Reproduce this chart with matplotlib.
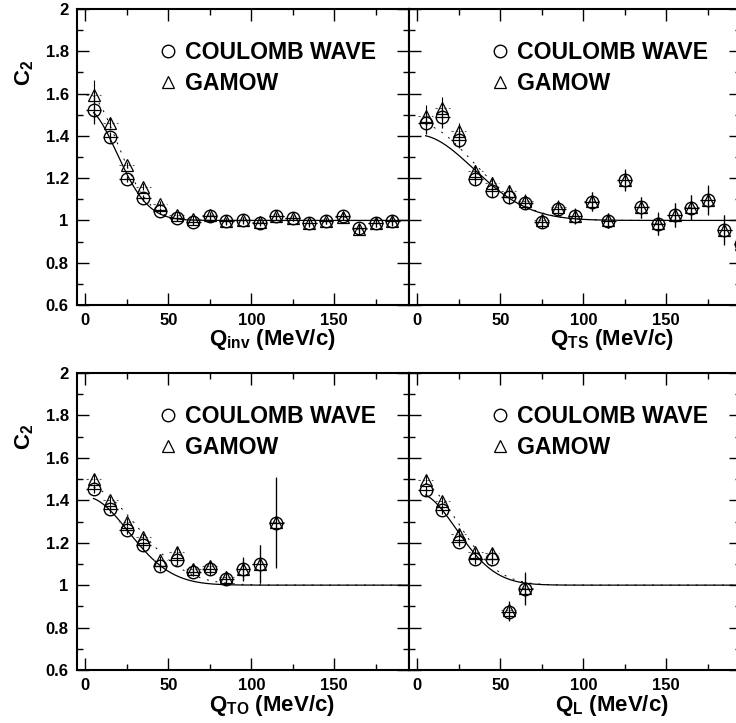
import matplotlib
matplotlib.use("Agg")
import matplotlib.pyplot as plt
from matplotlib.ticker import MultipleLocator, FormatStrFormatter
import numpy as np

plt.rcParams['font.family'] = ['Liberation Sans', 'DejaVu Sans']
plt.rcParams['font.weight'] = 'bold'
plt.rcParams['mathtext.fontset'] = 'custom'
plt.rcParams['mathtext.rm'] = 'Liberation Sans:bold'
plt.rcParams['mathtext.bf'] = 'Liberation Sans:bold'
plt.rcParams['mathtext.it'] = 'Liberation Sans:bold'
plt.rcParams['mathtext.default'] = 'bf'

HBARC = 197.327  # MeV fm

# Q_inv panel
q_inv = [5, 15, 25, 35, 45, 55, 65, 75, 85, 95, 105, 115, 125, 135, 145, 155, 165, 175, 185]
cw_inv = [1.524, 1.394, 1.197, 1.106, 1.044, 1.010, 0.992, 1.019, 0.995, 1.000,
          0.990, 1.019, 1.011, 0.988, 0.996, 1.023, 0.962, 0.988, 0.995]
gm_inv = [1.594, 1.463, 1.263, 1.160, 1.079, 1.027, 1.008, 1.024, 0.997, 1.003,
          0.992, 1.020, 1.012, 0.986, 0.997, 1.017, 0.958, 0.990, 0.997]
err_inv = [0.07, 0.025, 0.015, 0.015, 0.015, 0.015, 0.015, 0.015, 0.015, 0.015,
           0.015, 0.015, 0.015, 0.015, 0.015, 0.015, 0.02, 0.02, 0.02]

# Q_TS panel
q_ts = [5, 15, 25, 35, 45, 55, 65, 75, 85, 95, 105, 115, 125, 135, 145, 155, 165, 175, 185, 195]
cw_ts = [1.460, 1.488, 1.381, 1.197, 1.139, 1.110, 1.082, 0.992, 1.055, 1.019,
         1.089, 0.998, 1.190, 1.062, 0.984, 1.026, 1.060, 1.096, 0.955, 0.89]
gm_ts = [1.496, 1.532, 1.422, 1.233, 1.176, 1.139, 1.094, 1.000, 1.063, 1.023,
         1.091, 1.000, 1.192, 1.063, 0.986, 1.027, 1.062, 1.098, 0.957, 0.89]
err_ts = [0.05, 0.05, 0.04, 0.03, 0.03, 0.03, 0.03, 0.03, 0.035, 0.035,
          0.045, 0.035, 0.05, 0.05, 0.053, 0.057, 0.06, 0.069, 0.069, 0.07]

# Q_TO panel
q_to = [5, 15, 25, 35, 45, 55, 65, 75, 85, 95, 105, 115]
cw_to = [1.455, 1.358, 1.259, 1.188, 1.089, 1.118, 1.063, 1.075, 1.031, 1.074, 1.099, 1.293]
gm_to = [1.502, 1.400, 1.298, 1.227, 1.118, 1.157, 1.078, 1.089, 1.039, 1.078, 1.100, 1.298]
err_to = [0.02, 0.02, 0.02, 0.02, 0.02, 0.025, 0.02, 0.025, 0.03, 0.055, 0.09, 0.21]

# Q_L panel
q_l = [5, 15, 25, 35, 45, 55, 65]
cw_l = [1.447, 1.356, 1.204, 1.122, 1.125, 0.875, 0.980]
gm_l = [1.497, 1.397, 1.243, 1.157, 1.152, 0.882, 0.987]
err_l = [0.02, 0.02, 0.02, 0.02, 0.025, 0.045, 0.075]

# gaussian fit results (lambda, R in fm): coulomb wave, gamow
fit_inv = [(0.528, 7.39), (0.61, 7.30)]
fit_ts = [(0.405, 4.14), (0.46, 4.19)]
fit_to = [(0.416, 5.37), (0.468, 4.59)]
fit_l = [(0.4345, 5.93), (0.49, 5.75)]

xlabels = ['Q$_{inv}$ (MeV/c)', 'Q$_{TS}$ (MeV/c)', 'Q$_{TO}$ (MeV/c)', 'Q$_{L}$ (MeV/c)']

XERR = 4.4
MS = 9


def draw_panel(ax, q, cw, gm, err, fits, xlabel, left):
    qf = np.linspace(5, 195, 300)
    lam, r = fits[0]
    ax.plot(qf, 1 + lam * np.exp(-(qf * r / HBARC) ** 2), color='black', lw=0.9)
    lam, r = fits[1]
    ax.plot(qf, 1 + lam * np.exp(-(qf * r / HBARC) ** 2), color='black', lw=0.7,
            ls=(0, (2, 7)))

    # gamow points
    eb = ax.errorbar(q, gm, yerr=err, xerr=XERR, fmt='^', ms=MS, mfc='none', mec='black',
                     mew=0.9, ecolor='black', elinewidth=0.8, capsize=0)
    eb[2][0].set_linestyle((0, (2, 2)))
    eb[2][0].set_color('0.35')
    # coulomb wave points
    ax.errorbar(q, cw, yerr=err, xerr=XERR, fmt='o', ms=MS, mfc='none', mec='black',
                mew=1.0, ecolor='black', elinewidth=0.9, capsize=0)

    ax.set_xlim(-5, 195)
    ax.set_ylim(0.6, 2.0)
    ax.xaxis.set_major_locator(MultipleLocator(50))
    ax.xaxis.set_minor_locator(MultipleLocator(25))
    ax.yaxis.set_major_locator(MultipleLocator(0.2))
    ax.yaxis.set_minor_locator(MultipleLocator(0.1))
    ax.yaxis.set_major_formatter(FormatStrFormatter('%g'))
    ax.tick_params(which='both', direction='in', top=True, right=True, width=1.0)
    ax.tick_params(which='major', length=8.6, labelsize=12, pad=6)
    ax.tick_params(which='minor', length=4.3)
    for s in ax.spines.values():
        s.set_linewidth(1.5)
    for t in ax.get_xticklabels() + ax.get_yticklabels():
        t.set_fontweight('bold')
    if not left:
        ax.tick_params(labelleft=False)

    ax.set_xlabel(xlabel, fontsize=16, fontweight='bold')
    ax.xaxis.set_label_coords(0.587 if left else 0.612, -0.076)
    if left:
        ax.set_ylabel('C$_{2}$', fontsize=16, fontweight='bold', va='center')
        ax.yaxis.set_label_coords(-0.157, 0.785)

    # key
    ax.plot([0.274], [0.858], 'o', ms=MS, mfc='none', mec='black', mew=1.0,
            transform=ax.transAxes)
    ax.text(0.326, 0.831, 'COULOMB WAVE', transform=ax.transAxes, fontsize=16.6,
            fontweight='bold', va='baseline')
    ax.plot([0.274], [0.753], '^', ms=MS, mfc='none', mec='black', mew=0.9,
            transform=ax.transAxes)
    ax.text(0.326, 0.726, 'GAMOW', transform=ax.transAxes, fontsize=16.6,
            fontweight='bold', va='baseline')


fig = plt.figure(figsize=(7.36, 7.23), dpi=100)
w = 332 / 736
h = 296 / 723
ax1 = fig.add_axes([77 / 736, 1 - 305 / 723, w, h])
ax2 = fig.add_axes([409 / 736, 1 - 305 / 723, w, h])
ax3 = fig.add_axes([77 / 736, 1 - 670 / 723, w, 297 / 723])
ax4 = fig.add_axes([409 / 736, 1 - 670 / 723, w, 297 / 723])

draw_panel(ax1, q_inv, cw_inv, gm_inv, err_inv, fit_inv, xlabels[0], True)
draw_panel(ax2, q_ts, cw_ts, gm_ts, err_ts, fit_ts, xlabels[1], False)
draw_panel(ax3, q_to, cw_to, gm_to, err_to, fit_to, xlabels[2], True)
draw_panel(ax4, q_l, cw_l, gm_l, err_l, fit_l, xlabels[3], False)

fig.savefig('out.png', dpi=100)
